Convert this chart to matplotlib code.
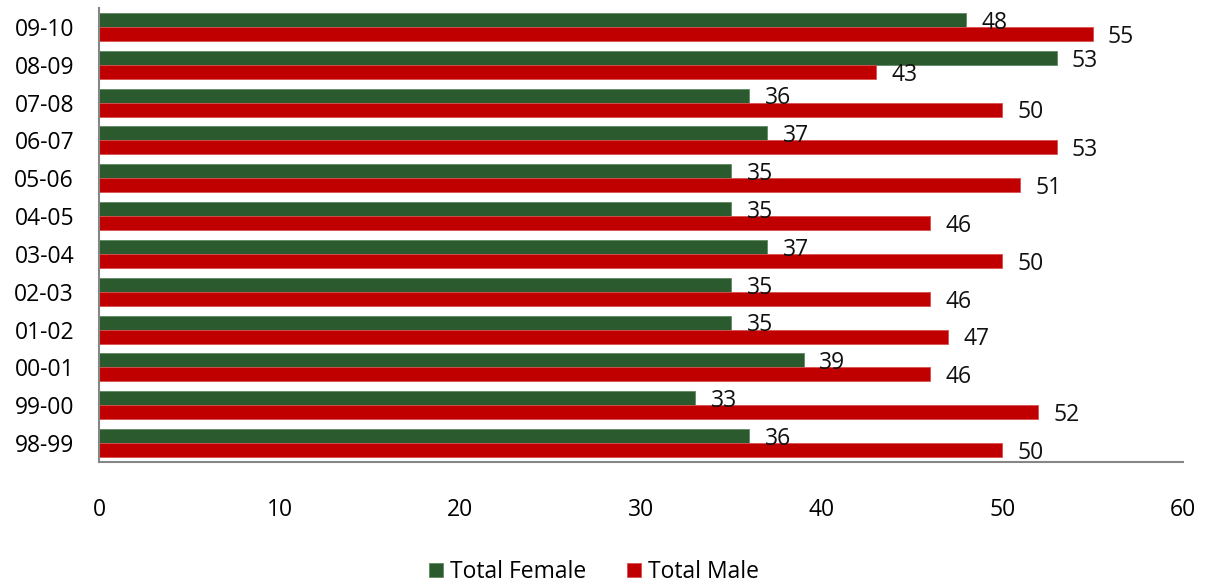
import numpy as np
import matplotlib.pyplot as plt

plt.rcParams['font.family'] = ['Open Sans', 'DejaVu Sans']

# data, bottom to top
years = ['98-99', '99-00', '00-01', '01-02', '02-03', '03-04',
         '04-05', '05-06', '06-07', '07-08', '08-09', '09-10']
female = [36, 33, 39, 35, 35, 37, 35, 35, 37, 36, 53, 48]
male = [50, 52, 46, 47, 46, 50, 46, 51, 53, 50, 43, 55]

green = '#2A5A2E'
red = '#C00000'
fs = 16.5

fig = plt.figure(figsize=(12.12, 5.84), dpi=100)
ax = fig.add_axes([99/1212, 1 - 462/584, (1183-99)/1212, 454/584])

y = np.arange(len(years))
h = 0.37
bf = ax.barh(y + h/2, female, height=h, color=green, edgecolor='#5F8A62', linewidth=0.6, label='Total Female')
bm = ax.barh(y - h/2, male, height=h, color=red, edgecolor='#D85050', linewidth=0.6, label='Total Male')

for i in range(len(years)):
    ax.annotate(str(female[i]), (female[i], y[i] + h/2), xytext=(11, -2), textcoords='offset points',
                va='center', ha='left', fontsize=fs, color='#111111')
    ax.annotate(str(male[i]), (male[i], y[i] - h/2), xytext=(11, -2), textcoords='offset points',
                va='center', ha='left', fontsize=fs, color='#111111')

ax.set_xlim(0, 60)
ax.set_ylim(-0.5, len(years) - 0.5)
ax.set_yticks(y)
ax.set_yticklabels(years, fontsize=fs)
ax.set_xticks(np.arange(0, 61, 10))
ax.tick_params(axis='x', length=0, pad=26, labelsize=fs)
ax.tick_params(axis='y', length=0, pad=18)
for s in ['top', 'right']:
    ax.spines[s].set_visible(False)
for s in ['left', 'bottom']:
    ax.spines[s].set_color('#868686')
    ax.spines[s].set_linewidth(1.5)

fig.legend(handles=[bf, bm], loc='center', bbox_to_anchor=(594/1212, 1 - 572/584), ncol=2, frameon=False,
           fontsize=fs, handlelength=0.6, handleheight=0.6, columnspacing=1.8, handletextpad=0.3)

fig.savefig('out.png', dpi=100)
